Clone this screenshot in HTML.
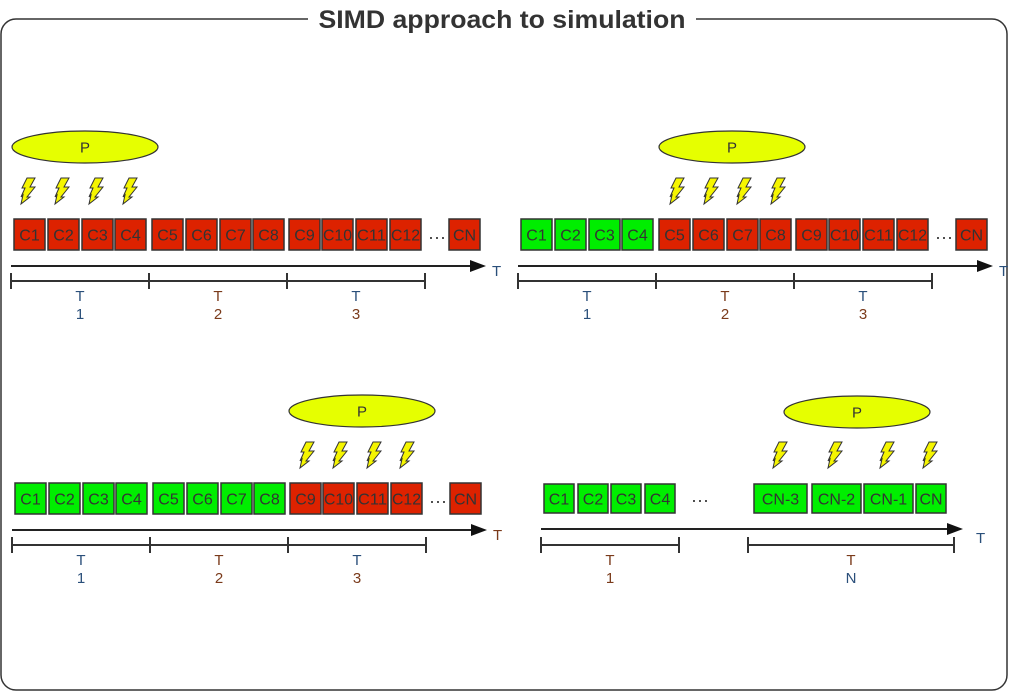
<!DOCTYPE html>
<html><head><meta charset="utf-8"><style>
html,body{margin:0;padding:0;background:#fff;}
svg{display:block;font-family:"Liberation Sans",sans-serif;}
</style></head><body>
<svg id="s" width="1009" height="692" viewBox="0 0 1009 692">
<rect x="1" y="19" width="1006" height="671" rx="15" fill="#fff" stroke="#333" stroke-width="1.5"/>
<rect x="308" y="4" width="388" height="32" fill="#fff"/>
<text x="502" y="28" text-anchor="middle" font-size="25" font-weight="bold" fill="#333" textLength="367" lengthAdjust="spacingAndGlyphs">SIMD approach to simulation</text>
</svg>
<script>
const NS="http://www.w3.org/2000/svg";
const svg=document.getElementById('s');
const RED="#dd2200",GREEN="#00ee00",BLUE="#2a4f7a",BROWN="#7a3a1a";
function el(tag,attrs,parent){const e=document.createElementNS(NS,tag);for(const k in attrs)e.setAttribute(k,attrs[k]);(parent||svg).appendChild(e);return e;}
function box(g,x,y,w,h,label,color){
  const b=el('rect',{x:x,y:y,width:w,height:h,fill:color,stroke:'#333','stroke-width':1.5},g);
  
  
  const t=el('text',{x:x+w/2,y:y+h/2+6,'text-anchor':'middle','font-size':16,fill:'#333'},g);
  if(label.length>=3 && w<35){t.setAttribute('textLength',w-2);t.setAttribute('lengthAdjust','spacingAndGlyphs');}
  t.textContent=label;
  
  
}
function bolt(g,x,y){
  const p=el('path',{d:`M${x+6},${y} L${x+14},${y} L${x+9},${y+9} L${x+14},${y+9} L${x+6},${y+19} L${x+9},${y+19} L${x},${y+26} L${x+2},${y+17} L${x},${y+19} L${x+4},${y+10} L${x+1},${y+10} Z`,fill:'#f5f500',stroke:'#333','stroke-width':1},g);
  
  
}
function proc(g,cx,cy){
  const e=el('ellipse',{cx:cx,cy:cy,rx:73,ry:16,fill:'#e6ff00',stroke:'#333','stroke-width':1.2},g);
  
  
  const t=el('text',{x:cx,y:cy+5.5,'text-anchor':'middle','font-size':15,fill:'#333'},g);
  t.textContent='P';
}
function axis(g,x1,x2,y,tx,ty,tcol){
  el('line',{x1:x1,y1:y,x2:x2-14,y2:y,stroke:'#222','stroke-width':2},g);
  el('path',{d:`M${x2-16},${y-6} L${x2},${y} L${x2-16},${y+6} Z`,fill:'#111'},g);
  const t=el('text',{x:tx,y:ty,'font-size':15,fill:tcol},g);t.textContent='T';
}
function span(g,a,b,y,num,tcol,ncol){
  el('line',{x1:a,y1:y,x2:b,y2:y,stroke:'#333','stroke-width':2},g);
  el('line',{x1:a,y1:y-8,x2:a,y2:y+8,stroke:'#333','stroke-width':2},g);
  el('line',{x1:b,y1:y-8,x2:b,y2:y+8,stroke:'#333','stroke-width':2},g);
  const m=(a+b)/2;
  const t=el('text',{x:m,y:y+20,'text-anchor':'middle','font-size':15,fill:tcol},g);t.textContent='T';
  const n=el('text',{x:m,y:y+38,'text-anchor':'middle','font-size':15,fill:ncol},g);n.textContent=num;
}
function dots(g,x,y){const t=el('text',{x:x,y:y,'text-anchor':'middle','font-size':18,fill:'#333'},g);t.textContent='···';}
const labels=['C1','C2','C3','C4','C5','C6','C7','C8','C9','C10','C11','C12'];
const xs=[0,34,68,101,138,172,206,239,275,308,342,376];
function panel(name,ox,oy,greenCount,pcx,boltXs,tcol){
  const g=el('g',{});
  
  
  proc(g,pcx,147+oy);
  boltXs.forEach(x=>bolt(g,x,178+oy));
  labels.forEach((l,i)=>box(g,ox+xs[i],219+oy,31,31,l,i<greenCount?GREEN:RED));
  dots(g,ox+423,243+oy);
  box(g,ox+435,219+oy,31,31,'CN',RED);
  axis(g,ox-3,ox+472,266+oy,ox+478,276+oy,tcol);
  span(g,ox-3,ox+135,281+oy,'1',BLUE,BLUE);
  span(g,ox+135,ox+273,281+oy,'2',BROWN,BROWN);
  span(g,ox+273,ox+411,281+oy,'3',BLUE,BROWN);
}
panel('panel-step-1',14,0,0,85,[21,55,89,123],BLUE);
panel('panel-step-2',521,0,4,732,[670,704,737,771],BLUE);
panel('panel-step-3',15,264,8,362,[300,333,367,400],BROWN);
(function(){
  const g=el('g',{});
  
  
  proc(g,857,412);
  [773,828,880,923].forEach(x=>bolt(g,x,442));
  [544,578,611,645].forEach((x,i)=>box(g,x,484,30,29,labels[i],GREEN));
  dots(g,700,506);
  box(g,754,484,53,29,'CN-3',GREEN);
  box(g,812,484,49,29,'CN-2',GREEN);
  box(g,864,484,49,29,'CN-1',GREEN);
  box(g,916,484,30,29,'CN',GREEN);
  axis(g,541,963,529,976,543,BLUE);
  span(g,541,679,545,'1',BROWN,BROWN);
  span(g,748,954,545,'N',BROWN,BLUE);
})();
</script>
</body></html>
